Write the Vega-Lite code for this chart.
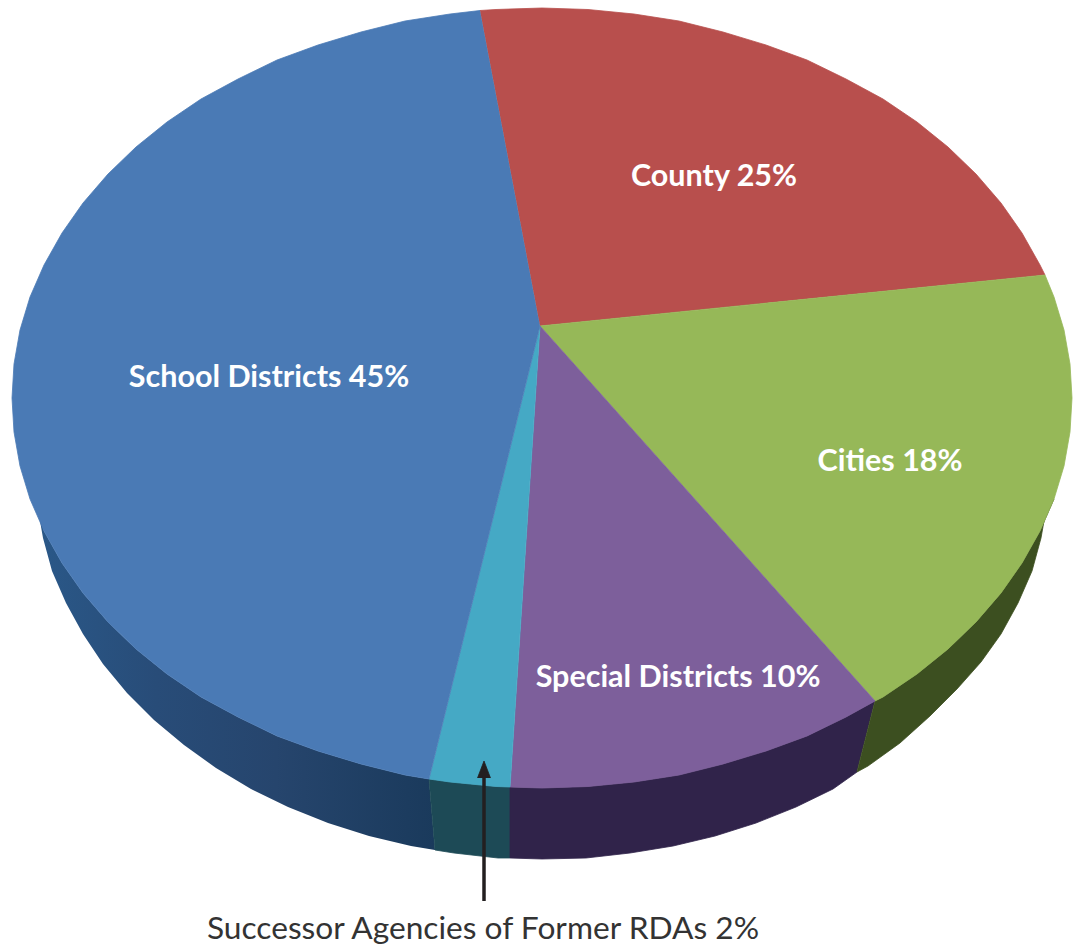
{"$schema":"https://vega.github.io/schema/vega-lite/v6.json","width":1081,"height":949,"padding":0,"autosize":"none","background":"white","view":{"stroke":null},
"datasets":{"shapes":[
{"part":"School side","i":1,"x":429,"y":779},{"part":"School side","i":2,"x":405,"y":775},{"part":"School side","i":3,"x":361,"y":764},{"part":"School side","i":4,"x":318,"y":751},{"part":"School side","i":5,"x":277,"y":736},{"part":"School side","i":6,"x":238,"y":717},{"part":"School side","i":7,"x":201,"y":697},{"part":"School side","i":8,"x":167,"y":674},{"part":"School side","i":9,"x":136,"y":649},{"part":"School side","i":10,"x":108,"y":622},{"part":"School side","i":11,"x":83,"y":593},{"part":"School side","i":12,"x":62,"y":563},{"part":"School side","i":13,"x":44,"y":531},{"part":"School side","i":14,"x":37,"y":504},{"part":"School side","i":15,"x":43,"y":538},{"part":"School side","i":16,"x":52,"y":571},{"part":"School side","i":17,"x":66,"y":603},{"part":"School side","i":18,"x":83,"y":634},{"part":"School side","i":19,"x":103,"y":664},{"part":"School side","i":20,"x":127,"y":693},{"part":"School side","i":21,"x":154,"y":720},{"part":"School side","i":22,"x":184,"y":745},{"part":"School side","i":23,"x":216,"y":768},{"part":"School side","i":24,"x":251,"y":789},{"part":"School side","i":25,"x":288,"y":807},{"part":"School side","i":26,"x":328,"y":823},{"part":"School side","i":27,"x":369,"y":836},{"part":"School side","i":28,"x":411,"y":846},{"part":"School side","i":29,"x":435,"y":850},
{"part":"Successor side","i":1,"x":510,"y":787},{"part":"Successor side","i":2,"x":496,"y":786.5},{"part":"Successor side","i":3,"x":450,"y":782},{"part":"Successor side","i":4,"x":429,"y":779},{"part":"Successor side","i":5,"x":435,"y":850},{"part":"Successor side","i":6,"x":454,"y":853},{"part":"Successor side","i":7,"x":498,"y":858},{"part":"Successor side","i":8,"x":510,"y":858},
{"part":"Special side","i":1,"x":875,"y":701},{"part":"Special side","i":2,"x":846,"y":717},{"part":"Special side","i":3,"x":807,"y":736},{"part":"Special side","i":4,"x":766,"y":751},{"part":"Special side","i":5,"x":723,"y":764},{"part":"Special side","i":6,"x":679,"y":775},{"part":"Special side","i":7,"x":634,"y":782},{"part":"Special side","i":8,"x":588,"y":786.5},{"part":"Special side","i":9,"x":542,"y":788},{"part":"Special side","i":10,"x":510,"y":787},{"part":"Special side","i":11,"x":510,"y":858},{"part":"Special side","i":12,"x":542,"y":859},{"part":"Special side","i":13,"x":586,"y":858},{"part":"Special side","i":14,"x":630,"y":853},{"part":"Special side","i":15,"x":673,"y":846},{"part":"Special side","i":16,"x":715,"y":836},{"part":"Special side","i":17,"x":756,"y":823},{"part":"Special side","i":18,"x":796,"y":807},{"part":"Special side","i":19,"x":833,"y":789},{"part":"Special side","i":20,"x":857,"y":772},
{"part":"Cities side","i":1,"x":1054,"y":499},{"part":"Cities side","i":2,"x":1040,"y":531},{"part":"Cities side","i":3,"x":1022,"y":563},{"part":"Cities side","i":4,"x":1001,"y":593},{"part":"Cities side","i":5,"x":976,"y":622},{"part":"Cities side","i":6,"x":948,"y":649},{"part":"Cities side","i":7,"x":917,"y":674},{"part":"Cities side","i":8,"x":883,"y":697},{"part":"Cities side","i":9,"x":875,"y":701},{"part":"Cities side","i":10,"x":857,"y":772},{"part":"Cities side","i":11,"x":868,"y":766},{"part":"Cities side","i":12,"x":900,"y":743},{"part":"Cities side","i":13,"x":930,"y":716},{"part":"Cities side","i":14,"x":957,"y":689},{"part":"Cities side","i":15,"x":981,"y":662},{"part":"Cities side","i":16,"x":1001,"y":634},{"part":"Cities side","i":17,"x":1018,"y":603},{"part":"Cities side","i":18,"x":1032,"y":571},{"part":"Cities side","i":19,"x":1041,"y":538},{"part":"Cities side","i":20,"x":1047,"y":504},
{"part":"County","i":0,"x":540,"y":326},{"part":"County","i":1,"x":480,"y":10.5},{"part":"County","i":2,"x":496,"y":9.5},{"part":"County","i":3,"x":542,"y":8},{"part":"County","i":4,"x":588,"y":9.5},{"part":"County","i":5,"x":634,"y":14},{"part":"County","i":6,"x":679,"y":21},{"part":"County","i":7,"x":723,"y":32},{"part":"County","i":8,"x":766,"y":45},{"part":"County","i":9,"x":807,"y":60},{"part":"County","i":10,"x":846,"y":79},{"part":"County","i":11,"x":883,"y":99},{"part":"County","i":12,"x":917,"y":122},{"part":"County","i":13,"x":948,"y":147},{"part":"County","i":14,"x":976,"y":174},{"part":"County","i":15,"x":1001,"y":203},{"part":"County","i":16,"x":1022,"y":233},{"part":"County","i":17,"x":1040,"y":265},{"part":"County","i":18,"x":1045,"y":275},
{"part":"Cities","i":0,"x":540,"y":326},{"part":"Cities","i":1,"x":1045,"y":275},{"part":"Cities","i":2,"x":1054,"y":297},{"part":"Cities","i":3,"x":1064,"y":330},{"part":"Cities","i":4,"x":1070,"y":364},{"part":"Cities","i":5,"x":1072,"y":398},{"part":"Cities","i":6,"x":1070,"y":432},{"part":"Cities","i":7,"x":1064,"y":466},{"part":"Cities","i":8,"x":1054,"y":499},{"part":"Cities","i":9,"x":1040,"y":531},{"part":"Cities","i":10,"x":1022,"y":563},{"part":"Cities","i":11,"x":1001,"y":593},{"part":"Cities","i":12,"x":976,"y":622},{"part":"Cities","i":13,"x":948,"y":649},{"part":"Cities","i":14,"x":917,"y":674},{"part":"Cities","i":15,"x":883,"y":697},{"part":"Cities","i":16,"x":875,"y":701},
{"part":"Special","i":0,"x":540,"y":326},{"part":"Special","i":1,"x":875,"y":701},{"part":"Special","i":2,"x":846,"y":717},{"part":"Special","i":3,"x":807,"y":736},{"part":"Special","i":4,"x":766,"y":751},{"part":"Special","i":5,"x":723,"y":764},{"part":"Special","i":6,"x":679,"y":775},{"part":"Special","i":7,"x":634,"y":782},{"part":"Special","i":8,"x":588,"y":786.5},{"part":"Special","i":9,"x":542,"y":788},{"part":"Special","i":10,"x":510,"y":787},
{"part":"Successor","i":0,"x":540,"y":326},{"part":"Successor","i":1,"x":510,"y":787},{"part":"Successor","i":2,"x":496,"y":786.5},{"part":"Successor","i":3,"x":450,"y":782},{"part":"Successor","i":4,"x":429,"y":779},
{"part":"School","i":0,"x":540,"y":326},{"part":"School","i":1,"x":429,"y":779},{"part":"School","i":2,"x":405,"y":775},{"part":"School","i":3,"x":361,"y":764},{"part":"School","i":4,"x":318,"y":751},{"part":"School","i":5,"x":277,"y":736},{"part":"School","i":6,"x":238,"y":717},{"part":"School","i":7,"x":201,"y":697},{"part":"School","i":8,"x":167,"y":674},{"part":"School","i":9,"x":136,"y":649},{"part":"School","i":10,"x":108,"y":622},{"part":"School","i":11,"x":83,"y":593},{"part":"School","i":12,"x":62,"y":563},{"part":"School","i":13,"x":44,"y":531},{"part":"School","i":14,"x":30,"y":499},{"part":"School","i":15,"x":20,"y":466},{"part":"School","i":16,"x":14,"y":432},{"part":"School","i":17,"x":12,"y":398},{"part":"School","i":18,"x":14,"y":364},{"part":"School","i":19,"x":20,"y":330},{"part":"School","i":20,"x":30,"y":297},{"part":"School","i":21,"x":44,"y":265},{"part":"School","i":22,"x":62,"y":233},{"part":"School","i":23,"x":83,"y":203},{"part":"School","i":24,"x":108,"y":174},{"part":"School","i":25,"x":136,"y":147},{"part":"School","i":26,"x":167,"y":122},{"part":"School","i":27,"x":201,"y":99},{"part":"School","i":28,"x":238,"y":79},{"part":"School","i":29,"x":277,"y":60},{"part":"School","i":30,"x":318,"y":45},{"part":"School","i":31,"x":361,"y":32},{"part":"School","i":32,"x":405,"y":21},{"part":"School","i":33,"x":450,"y":14},{"part":"School","i":34,"x":480,"y":10.5},
{"part":"Arrowhead","i":1,"x":477.5,"y":778},{"part":"Arrowhead","i":2,"x":484,"y":761},{"part":"Arrowhead","i":3,"x":490.5,"y":778}
],
"labels":[
{"label":"School Districts 45%","x":269,"y":378},{"label":"County 25%","x":714,"y":177},{"label":"Cities 18%","x":890,"y":462},{"label":"Special Districts 10%","x":678,"y":678}
]},
"layer":[
{"data":{"name":"shapes"},"transform":[{"filter":"datum.part === 'School side'"}],
 "mark":{"type":"line","filled":true,"strokeWidth":0,"fill":{"gradient":"linear","x1":0,"y1":0,"x2":1,"y2":0,"stops":[{"offset":0,"color":"#2a5888"},{"offset":0.3,"color":"#284c78"},{"offset":0.6,"color":"#26456d"},{"offset":1,"color":"#1a3a5c"}]}},
 "encoding":{"x":{"field":"x","type":"quantitative","scale":{"domain":[0,1081]},"axis":null},"y":{"field":"y","type":"quantitative","scale":{"domain":[949,0]},"axis":null},"order":{"field":"i"}}},
{"data":{"name":"shapes"},"transform":[{"filter":"datum.part !== 'School side'"}],
 "mark":{"type":"line","filled":true,"strokeWidth":0.8},
 "encoding":{"x":{"field":"x","type":"quantitative","scale":{"domain":[0,1081]},"axis":null},"y":{"field":"y","type":"quantitative","scale":{"domain":[949,0]},"axis":null},"order":{"field":"i"},
  "color":{"field":"part","type":"nominal","legend":null,"sort":null,"scale":{"domain":["Successor side","Special side","Cities side","County","Cities","Special","Successor","School","Arrowhead"],"range":["#1d4a56","#30234a","#3c4f20","#b84f4d","#96b858","#7d5f9b","#45a9c5","#4a7ab5","#231f20"]}},
  "stroke":{"field":"part","type":"nominal","legend":null,"scale":{"domain":["Successor side","Special side","Cities side","County","Cities","Special","Successor","School","Arrowhead"],"range":["#1d4a56","#30234a","#3c4f20","#b84f4d","#96b858","#7d5f9b","#45a9c5","#4a7ab5","#231f20"]}}}},
{"data":{"values":[{"x":484,"y":775,"y2":901}]},"mark":{"type":"rule","color":"#231f20","strokeWidth":3.5},
 "encoding":{"x":{"field":"x","type":"quantitative","scale":{"domain":[0,1081]},"axis":null},"y":{"field":"y","type":"quantitative","scale":{"domain":[949,0]},"axis":null},"y2":{"field":"y2"}}},
{"data":{"name":"labels"},"mark":{"type":"text","font":"Lato","fontWeight":"bold","fontSize":30.5,"color":"white","align":"center","baseline":"middle"},
 "encoding":{"x":{"field":"x","type":"quantitative","scale":{"domain":[0,1081]},"axis":null},"y":{"field":"y","type":"quantitative","scale":{"domain":[949,0]},"axis":null},"text":{"field":"label"}}},
{"data":{"values":[{"label":"Successor Agencies of Former RDAs 2%","x":483,"y":929}]},"mark":{"type":"text","font":"Lato","fontSize":31.7,"color":"#333333","align":"center","baseline":"middle"},
 "encoding":{"x":{"field":"x","type":"quantitative","scale":{"domain":[0,1081]},"axis":null},"y":{"field":"y","type":"quantitative","scale":{"domain":[949,0]},"axis":null},"text":{"field":"label"}}}
],
"resolve":{"scale":{"color":"independent"}}}
